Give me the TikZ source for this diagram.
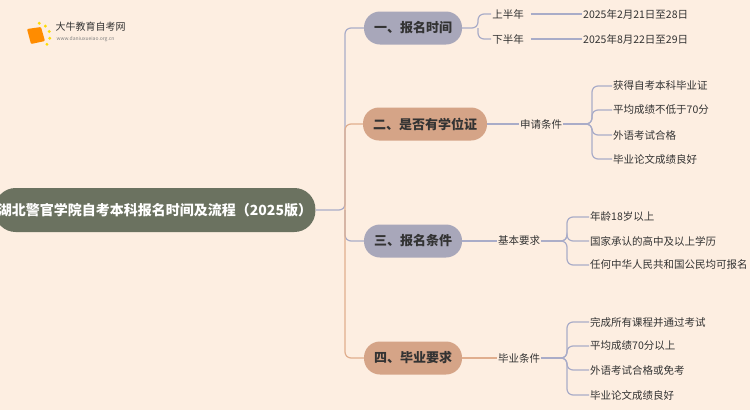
\documentclass[tikz,border=0pt]{standalone}
\usepackage{fontspec}
\setmainfont{Noto Sans CJK SC}
\usetikzlibrary{calc}
\definecolor{Bg}{HTML}{FDEEE1}
\definecolor{Root}{HTML}{6B7260}
\definecolor{Lilac}{HTML}{A8A7BA}
\definecolor{Tan}{HTML}{D5A487}
\definecolor{LineB}{HTML}{A9ACC8}
\definecolor{LineT}{HTML}{E0AE8E}
\definecolor{Ink}{HTML}{333333}
\tikzset{
  rootbox/.style={fill=Root,text=white,rounded corners=21pt,minimum width=300pt,minimum height=44pt,font=\fontsize{14}{16}\selectfont\bfseries},
  topic/.style={rounded corners=16pt,minimum height=33pt,inner xsep=10pt,text=Ink,font=\fontsize{13}{15}\selectfont\bfseries},
  leaf/.style={text=Ink,font=\fontsize{10.5}{12}\selectfont,inner sep=1pt},
  link/.style={line width=1.2pt,rounded corners=6pt}
}
\begin{document}
\begin{tikzpicture}[x=1pt,y=-1pt]
\fill[Bg] (0,0) rectangle (750,410);
\useasboundingbox (0,0) rectangle (750,410);
% logo
\fill[orange!90!yellow,rounded corners=1pt] (27,29) -- (41,27) -- (45,41) -- (31,44) -- cycle;
\foreach \a in {100,130,...,220}
  \fill[yellow!80!orange] ($(37,36)+(\a:-13)$) circle (1.6);
\node[anchor=west,text=Ink,font=\fontsize{10}{11}\selectfont] (brand) at (52,27) {大牛教育自考网};
\node[anchor=west,text=gray,font=\fontsize{5}{6}\selectfont] (site) at (53,39) {www.daniuxueiao.org.cn};
% root and topics
\node[rootbox] (root) at (155,210) {湖北警官学院自考本科报名时间及流程（2025版）};
\node[topic,fill=Lilac] (t1) at (413,28) {一、报名时间};
\node[topic,fill=Tan] (t2) at (425,124) {二、是否有学位证};
\node[topic,fill=Lilac] (t3) at (413,241) {三、报名条件};
\node[topic,fill=Tan] (t4) at (413,358) {四、毕业要求};
\coordinate (trunk) at (345,210);
\draw[link,LineB] (root.east) -- (trunk) |- (t1.west);
\draw[link,LineT] (trunk) |- (t2.west);
\draw[link,LineB] (trunk) |- (t3.west);
\draw[link,LineT] (trunk) |- (t4.west);
% 报名时间
\node[leaf] (h1) at (508,14) {上半年};
\node[leaf] (h2) at (508,39) {下半年};
\node[leaf,anchor=west] (d1) at (582,14) {2025年2月21日至28日};
\node[leaf,anchor=west] (d2) at (582,39) {2025年8月22日至29日};
\draw[link,LineB] (t1.east) -- (478,28) |- (h1.west);
\draw[link,LineB] (478,28) |- (h2.west);
\draw[LineB,line width=1.2pt] (h1.east)++(6,0) -- (d1.west) (h2.east)++(6,0) -- (d2.west);
% 学位证
\node[leaf] (c2) at (541,124) {申请条件};
\draw[link,LineB] (t2.east) -- (c2.west);
\foreach \y/\txt [count=\i] in {86/获得自考本科毕业证,110/平均成绩不低于70分,135/外语考试合格,159/毕业论文成绩良好}{
  \node[leaf,anchor=west] (b\i) at (612,\y) {\txt};
  \draw[link,LineB] (c2.east) -- (592,124) |- (b\i.west);
}
% 报名条件
\node[leaf] (c3) at (519,241) {基本要求};
\draw[link,LineB] (t3.east) -- (c3.west);
\foreach \y/\txt [count=\i] in {217/年龄18岁以上,241/国家承认的高中及以上学历,265/任何中华人民共和国公民均可报名}{
  \node[leaf,anchor=west] (r\i) at (589,\y) {\txt};
  \draw[link,LineB] (c3.east) -- (567,241) |- (r\i.west);
}
% 毕业要求
\node[leaf] (c4) at (519,358) {毕业条件};
\draw[link,LineT] (t4.east) -- (c4.west);
\foreach \y/\txt [count=\i] in {322/完成所有课程并通过考试,346/平均成绩70分以上,370/外语考试合格或免考,395/毕业论文成绩良好}{
  \node[leaf,anchor=west] (g\i) at (589,\y) {\txt};
  \draw[link,LineB] (c4.east) -- (567,358) |- (g\i.west);
}
\end{tikzpicture}
\end{document}
